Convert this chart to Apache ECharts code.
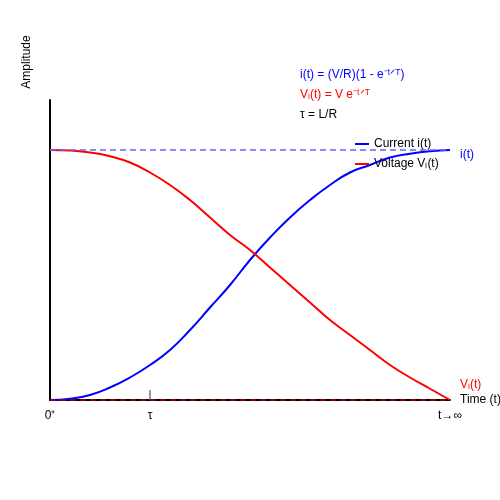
<!DOCTYPE html>
<html><head><meta charset="utf-8">
<script src="https://cdn.jsdelivr.net/npm/echarts@6/dist/echarts.min.js"></script>
<style>body{margin:0}#main{width:500px;height:500px}</style>
</head><body><div id="main"></div>
<script>
var times = [0,0.5,1,1.5,2,2.5,3,3.5,4,4.5,5,5.5,6,6.5,7,7.5,8,8.5,9,9.5,10];
var current = [0,0.005,0.02,0.05,0.09,0.14,0.2,0.28,0.37,0.46,0.56,0.65,0.73,0.8,0.86,0.91,0.94,0.97,0.985,0.995,1];
var voltage = [1,0.998,0.99,0.975,0.95,0.91,0.86,0.8,0.73,0.66,0.6,0.53,0.46,0.39,0.32,0.26,0.2,0.14,0.09,0.045,0];
var tau = 2.5;
var xTicks = {0: '0\u207A', 2.5: '\u03C4', 10: 't\u2192\u221E'};

function pairs(ys) { return times.map(function (t, i) { return [t, ys[i]]; }); }

var chart = echarts.init(document.getElementById('main'));
var f = 'Liberation Sans, Arial, sans-serif';
chart.setOption({
    animation: false,
    grid: {left: 50, right: 50, top: 100, bottom: 100},
    legend: {
        orient: 'vertical', left: 350, top: 133, itemWidth: 14, itemHeight: 2, itemGap: 8,
        textStyle: {fontFamily: f, fontSize: 12, color: '#000'},
        data: [{name: 'Current i(t)', icon: 'rect'}, {name: 'Voltage V\u2097(t)', icon: 'rect'}]
    },
    xAxis: {
        type: 'value', min: 0, max: 10, interval: 2.5,
        axisLine: {lineStyle: {color: '#000', width: 2}},
        axisTick: {show: false}, splitLine: {show: false},
        axisLabel: {fontFamily: f, fontSize: 12, color: '#000', margin: 10,
            formatter: function (v) { return xTicks[v] || ''; }}
    },
    yAxis: {
        type: 'value', min: 0, max: 1.2,
        axisLine: {show: true, lineStyle: {color: '#000', width: 2}},
        axisTick: {show: false}, axisLabel: {show: false}, splitLine: {show: false}
    },
    series: [
        {name: 'Current i(t)', type: 'line', data: pairs(current), smooth: true, showSymbol: false,
         lineStyle: {color: '#0000ff', width: 2}, itemStyle: {color: '#0000ff'},
         markLine: {silent: true, symbol: 'none', label: {show: false},
            lineStyle: {color: '#6666ff', type: [6, 4], width: 1.5}, data: [{yAxis: 1}]}},
        {name: 'Voltage V\u2097(t)', type: 'line', data: pairs(voltage), smooth: true, showSymbol: false,
         lineStyle: {color: '#ff0000', width: 2}, itemStyle: {color: '#ff0000'},
         markLine: {silent: true, symbol: 'none', label: {show: false},
            lineStyle: {color: '#aa0000', type: [6, 4], width: 1.5}, data: [{yAxis: 0}]}},
        {type: 'line', data: [[tau, 0], [tau, 0.04]], showSymbol: false, silent: true,
         lineStyle: {color: '#777', width: 1.5}}
    ],
    graphic: [
        {type: 'text', x: 27, y: 62, rotation: Math.PI / 2, style: {text: 'Amplitude', font: '12px ' + f, fill: '#000', align: 'center', verticalAlign: 'middle'}},
        {type: 'text', x: 300, y: 69, style: {text: 'i(t) = (V/R)(1 - e\u207B\u1D57\u141F\u1D40)', font: '12px ' + f, fill: '#0000ff'}},
        {type: 'text', x: 300, y: 89, style: {text: 'V\u2097(t) = V e\u207B\u1D57\u141F\u1D40', font: '12px ' + f, fill: '#ff0000'}},
        {type: 'text', x: 300, y: 109, style: {text: '\u03C4 = L/R', font: '12px ' + f, fill: '#000'}},
        {type: 'text', x: 460, y: 149, style: {text: 'i(t)', font: '12px ' + f, fill: '#0000ff'}},
        {type: 'text', x: 460, y: 379, style: {text: 'V\u2097(t)', font: '12px ' + f, fill: '#ff0000'}},
        {type: 'text', x: 460, y: 394, style: {text: 'Time (t)', font: '12px ' + f, fill: '#000'}}
    ]
});
</script></body></html>
